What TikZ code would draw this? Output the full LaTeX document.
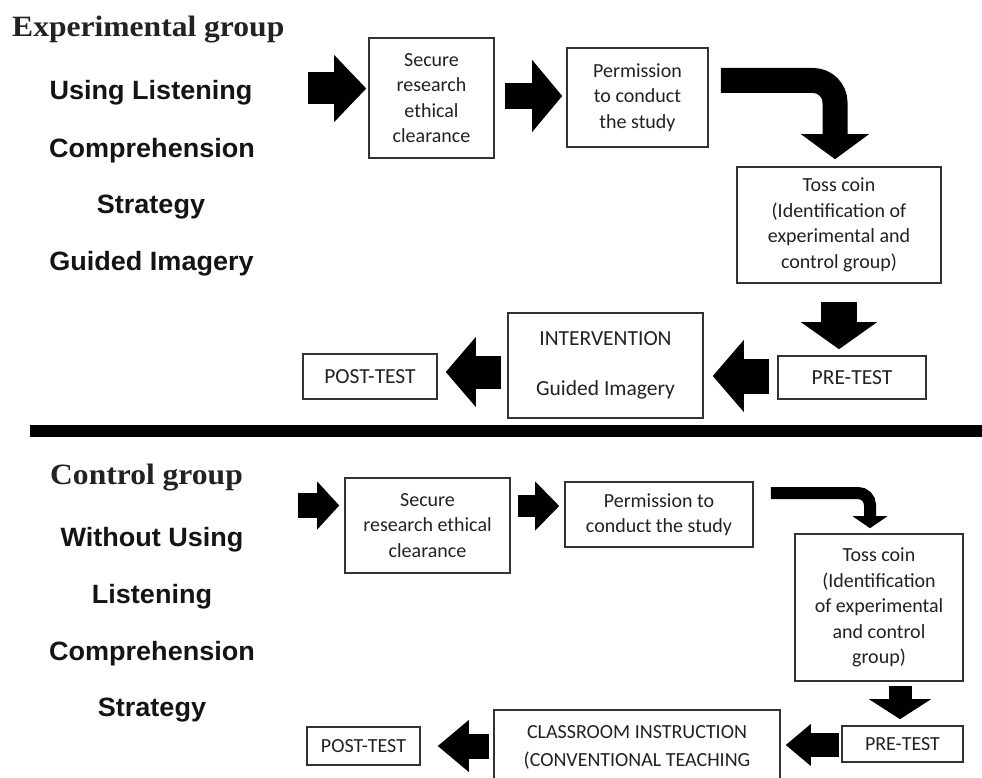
\documentclass[tikz,border=0pt]{standalone}
\usepackage{fontspec}
\usepackage{graphicx}
\setmainfont{Carlito}
\newfontfamily\labfont{Liberation Sans}
\newfontfamily\ttlfont{Liberation Serif}
\usetikzlibrary{arrows.meta}
\definecolor{ink}{HTML}{222222}
\definecolor{edge}{HTML}{333333}
\tikzset{
  box/.style={draw=edge, line width=1.6pt, inner sep=0pt, align=center, text=ink,
    font=\fontsize{20}{25.5}\selectfont},
  lab/.style={anchor=base, inner sep=0pt, text=black!92, font=\labfont\bfseries\fontsize{26.5}{30}\selectfont},
  ttl/.style={anchor=base west, inner sep=0pt, text=ink, font=\ttlfont\bfseries\fontsize{29.5}{34}\selectfont},
  blk/.style n args={3}{draw=black, line width=#1pt,
    -{Triangle[length=#3pt,width=#2pt,line width=0pt]}},
}
\begin{document}
\begin{tikzpicture}[x=1pt,y=-1pt]
\useasboundingbox (0,0) rectangle (982,778);
\clip (0,0) rectangle (982,778);
\fill[white] (0,0) rectangle (982,778);

% ---------- Experimental group ----------
\node[ttl] (t1) at (12,37) {\scalebox{1.07}[1]{Experimental group}};
\node[lab] (l1) at (151,100) {\scalebox{1.02}[1]{Using Listening}};
\node[lab] (l2) at (152,158) {\scalebox{1.02}[1]{Comprehension}};
\node[lab] (l3) at (151,213) {\scalebox{1.02}[1]{Strategy}};
\node[lab] (l4) at (151.5,270) {\scalebox{1.02}[1]{Guided Imagery}};

\node[box, minimum width=125pt, minimum height=120pt] (sec1) at (431.5,98)
  {Secure\\research\\ethical\\clearance};
\node[box, minimum width=141pt, minimum height=99pt] (perm1) at (637.5,97.5)
  {Permission\\to conduct\\the study};
\node[box, minimum width=204pt, minimum height=116pt] (toss1) at (839,225)
  {Toss coin\\(Identification of\\experimental and\\control group)};
\node[box, minimum width=148pt, minimum height=43pt, font=\fontsize{21.5}{26}\selectfont]
  (pre1) at (852,377.5) {PRE-TEST};
\node[box, minimum width=195pt, minimum height=105pt, font=\fontsize{21.5}{50}\selectfont]
  (int1) at (605.5,365.5) {INTERVENTION\\Guided Imagery};
\node[box, minimum width=134pt, minimum height=45pt, font=\fontsize{21.5}{26}\selectfont]
  (post1) at (370,376.5) {POST-TEST};

\coordinate (a1s) at (308,88.5);
\draw[blk={32}{67}{32}, shorten >=2pt] (a1s) -- (a1s -| sec1.west);
\path (sec1.east) ++(0,-2) coordinate (a2s);
\draw[blk={26}{72}{30}, shorten <=10pt, shorten >=4pt] (a2s) -- (a2s -| perm1.west);
\path (perm1.east) ++(12,-17) coordinate (a3s);
\draw[blk={25}{68}{25}, rounded corners=22pt, shorten >=7pt] (a3s) -| ([xshift=-4pt]toss1.north);
\draw[blk={36}{76}{27}, shorten <=18pt, shorten >=6pt] (toss1.south) -- (toss1.south |- pre1.north);
\path (pre1.west) ++(-8,-1.5) coordinate (a5s);
\draw[blk={35}{72}{31}, shorten >=9pt] (a5s) -- (a5s -| int1.east);
\path (int1.west) ++(-6,6.5) coordinate (a6s);
\draw[blk={33}{70}{30}, shorten >=8pt] (a6s) -- (a6s -| post1.east);

% ---------- divider ----------
\coordinate (d1) at (30,431);
\coordinate (d2) at (990,431);
\draw[line width=12pt] (d1) -- (d2);

% ---------- Control group ----------
\node[ttl] (t2) at (50,484) {\scalebox{1.07}[1]{Control group}};
\node[lab] (m1) at (152,546) {\scalebox{1.02}[1]{Without Using}};
\node[lab] (m2) at (152,603) {\scalebox{1.02}[1]{Listening}};
\node[lab] (m3) at (152,660) {\scalebox{1.02}[1]{Comprehension}};
\node[lab] (m4) at (152,716) {\scalebox{1.02}[1]{Strategy}};

\node[box, minimum width=165pt, minimum height=95pt] (sec2) at (427.5,525.5)
  {Secure\\research ethical\\clearance};
\node[box, minimum width=188pt, minimum height=65pt] (perm2) at (659,514.5)
  {Permission to\\conduct the study};
\node[box, minimum width=168pt, minimum height=147pt] (toss2) at (879,607.5)
  {Toss coin\\(Identification\\of experimental\\and control\\group)};
\node[box, minimum width=121pt, minimum height=36pt] (pre2) at (902.5,744) {PRE-TEST};
\node[box, minimum width=286pt, minimum height=74pt, font=\fontsize{20}{28}\selectfont]
  (cls2) at (637,747) {CLASSROOM INSTRUCTION\\(CONVENTIONAL TEACHING};
\node[box, minimum width=113pt, minimum height=38pt] (post2) at (363.5,746) {POST-TEST};

\coordinate (b1s) at (298,505.5);
\draw[blk={25}{48}{22}, shorten >=5pt] (b1s) -- (b1s -| sec2.west);
\path (sec2.east) ++(7,-19.5) coordinate (b2s);
\draw[blk={22}{49}{24}, shorten >=5pt] (b2s) -- (b2s -| perm2.west);
\path (perm2.east) ++(17,-21.5) coordinate (b3s);
\draw[blk={12}{35}{12}, rounded corners=12pt, shorten >=5pt] (b3s) -| ([xshift=-9pt]toss2.north);
\path (toss2.south) ++(21,4) coordinate (b4s);
\draw[blk={23}{62}{20}, shorten >=6pt] (b4s) -- (b4s |- pre2.north);
\path (pre2.west) ++(-2,1) coordinate (b5s);
\draw[blk={24}{42}{25}, shorten >=5pt] (b5s) -- (b5s -| cls2.east);
\path (cls2.west) ++(-4,-1) coordinate (b6s);
\draw[blk={25}{52}{31}, shorten >=17pt] (b6s) -- (b6s -| post2.east);
\end{tikzpicture}
\end{document}
